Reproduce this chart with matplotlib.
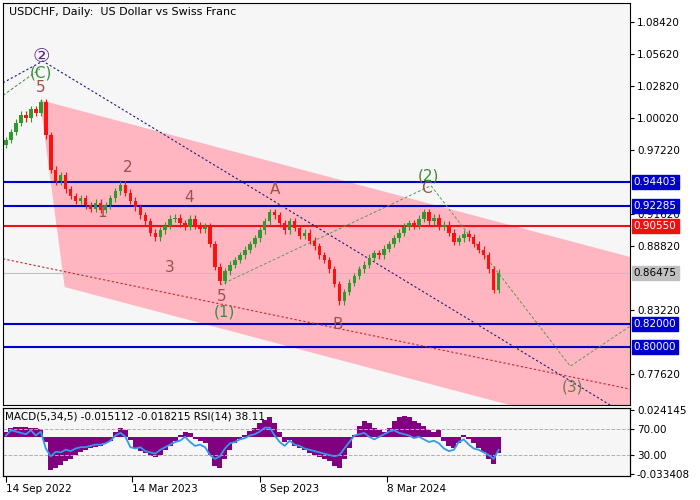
import numpy as np
import matplotlib
matplotlib.use('Agg')
import matplotlib.pyplot as plt
from matplotlib.patches import Polygon

step = 5
closes = [0.981, 0.988, 0.996, 1.003, 1.000, 1.008, 1.005, 1.014, 0.985, 0.955,
          0.945, 0.950, 0.938, 0.932, 0.928, 0.930, 0.924, 0.921, 0.926, 0.920,
          0.924, 0.930, 0.936, 0.942, 0.935, 0.928, 0.922, 0.915, 0.910, 0.900,
          0.896, 0.902, 0.906, 0.912, 0.913, 0.908, 0.905, 0.912, 0.906, 0.903,
          0.905, 0.890, 0.870, 0.858, 0.866, 0.872, 0.876, 0.880, 0.885, 0.890,
          0.895, 0.902, 0.910, 0.918, 0.915, 0.908, 0.902, 0.910, 0.904, 0.897,
          0.900, 0.893, 0.888, 0.880, 0.876, 0.868, 0.855, 0.840, 0.848, 0.856,
          0.862, 0.868, 0.872, 0.878, 0.882, 0.880, 0.886, 0.890, 0.895, 0.900,
          0.905, 0.908, 0.906, 0.912, 0.918, 0.910, 0.913, 0.905, 0.907, 0.900,
          0.892, 0.895, 0.899, 0.896, 0.890, 0.885, 0.880, 0.868, 0.850, 0.8647]
macd_hist = [0.004, 0.008, 0.009, 0.009, 0.009, 0.008, 0.008, 0.007, -0.005, -0.030,
             -0.028, -0.025, -0.022, -0.020, -0.016, -0.014, -0.012, -0.010, -0.009, -0.008,
             -0.006, -0.004, 0.004, 0.008, 0.006, -0.003, -0.010, -0.013, -0.015, -0.017,
             -0.018, -0.016, -0.012, -0.008, -0.004, 0.002, 0.004, 0.003, -0.002, -0.004,
             -0.006, -0.016, -0.026, -0.028, -0.020, -0.012, -0.006, -0.002, 0.002, 0.005,
             0.008, 0.012, 0.015, 0.018, 0.012, 0.004, -0.005, -0.003, -0.008, -0.010,
             -0.012, -0.015, -0.016, -0.018, -0.020, -0.022, -0.026, -0.028, -0.020, -0.010,
             0.002, 0.010, 0.014, 0.012, 0.008, 0.006, 0.004, 0.008, 0.014, 0.018,
             0.019, 0.018, 0.014, 0.012, 0.010, 0.006, 0.004, 0.006, -0.004, -0.008,
             -0.010, -0.006, 0.002, -0.002, -0.006, -0.010, -0.014, -0.020, -0.024, -0.015]
rsi = [60, 68, 66, 64, 62, 68, 60, 66, 40, 28, 35, 34, 38, 36, 40, 42, 42, 44, 46, 46,
       48, 52, 60, 64, 58, 42, 40, 42, 36, 34, 32, 38, 42, 46, 50, 52, 58, 50, 44, 46,
       42, 30, 24, 28, 40, 48, 50, 54, 56, 60, 62, 66, 72, 72, 60, 50, 44, 52, 46, 44,
       40, 38, 36, 34, 32, 30, 28, 30, 40, 50, 60, 62, 64, 58, 54, 58, 62, 66, 68, 64,
       62, 60, 56, 58, 54, 50, 52, 48, 40, 36, 38, 50, 54, 46, 40, 38, 34, 30, 24, 38]

price_ticks = [1.08420, 1.05620, 1.02820, 1.00020, 0.97220, 0.91620, 0.88820, 0.83220, 0.77620]
levels_blue = [0.94403, 0.92285, 0.82000, 0.80000]
level_red = 0.90550
last_price = 0.86475
date_pos = [0, 127, 255, 383]
date_labels = ['14 Sep 2022', '14 Mar 2023', '8 Sep 2023', '8 Mar 2024']

# wave labels: (bar, price, text, colour)
waves = [(35, 1.0536, '②', '#5a2a8a'), (35, 1.0396, '(C)', '#3c8c3c'), (35, 1.0273, '5', '#a0504a'),
         (97, 0.9171, '1', '#a0504a'), (122, 0.9573, '2', '#a0504a'), (164, 0.8698, '3', '#a0504a'),
         (184, 0.9302, '4', '#a0504a'), (217, 0.8436, '5', '#a0504a'), (219, 0.8305, '(1)', '#3c8c3c'),
         (270, 0.9372, 'A', '#a0504a'), (333, 0.8191, 'B', '#a0504a'), (422, 0.9389, 'C', '#a0504a'),
         (424, 0.9496, '(2)', '#3c8c3c'), (569, 0.7648, '(3)', '#6e7a4a')]

bg = '#f6f6f6'
fig = plt.figure(figsize=(7, 5), dpi=100)
fig.patch.set_facecolor('white')
ax = fig.add_axes([3/700, 95/500, 627/700, 402/500])
ax2 = fig.add_axes([3/700, 24/500, 627/700, 68/500])
for a in (ax, ax2):
    a.set_facecolor(bg)
    a.set_xlim(-3, 627)
    for s in a.spines.values():
        s.set_color('black')
        s.set_linewidth(0.8)

ax.set_ylim(0.7491, 1.1008)
bars = np.arange(len(closes)) * step

# channel
chan = Polygon([(34, 1.0160), (627, 0.8786), (627, 0.7211), (59, 0.8523)],
               closed=True, facecolor='#ffb6c1', edgecolor='none', zorder=1)
ax.add_patch(chan)

# candles
opens = [closes[0] - 0.004] + closes[:-1]
for b, o, c in zip(bars, opens, closes):
    col = '#2e9a2e' if c >= o else '#ff1010'
    lo, hi = min(o, c), max(o, c)
    ax.vlines(b, lo - 0.003, hi + 0.003, color=col, lw=0.8, zorder=3)
    ax.bar(b, max(hi - lo, 0.0008), bottom=lo, width=3.5, color=col, zorder=3)

# levels
for lv in levels_blue:
    ax.axhline(lv, color='#0000cc', lw=1.5, zorder=2)
ax.axhline(level_red, color='#ee1111', lw=1.5, zorder=2)
ax.axhline(last_price, color='#c0c0c0', lw=0.8, zorder=2)

# trend lines
ax.plot([-3, 37, 607], [1.0310, 1.0500, 0.7491], ls=(0, (2, 2)), color='#1a1a80', lw=0.8, zorder=2)
ax.plot([-3, 34], [1.0200, 1.0430], ls=(0, (3, 2)), color='#3c8c3c', lw=0.7, zorder=2)
ax.plot([215, 427, 567, 627], [0.8540, 0.9410, 0.7830, 0.8180], ls=(0, (3, 2)), color='#5a9a5a', lw=0.7, zorder=2)
ax.plot([-3, 627], [0.8770, 0.7630], ls=(0, (2, 2)), color='#cc2222', lw=0.8, zorder=2)

for b, p, t, c in waves:
    ax.text(b, p, t, color=c, fontsize=11 if t != '②' else 14, ha='center', va='center', zorder=4)

ax.text(0.01, 0.99, 'USDCHF, Daily:  US Dollar vs Swiss Franc', transform=ax.transAxes,
        fontsize=8, va='top', ha='left')

ax.yaxis.tick_right()
ax.set_yticks(price_ticks)
ax.set_yticklabels(['%.5f' % v for v in price_ticks], fontsize=7.5)
ax.tick_params(axis='y', length=3, pad=2)
ax.set_xticks([])
for lv, fc, tc in [(0.94403, '#0000cc', 'white'), (0.92285, '#0000cc', 'white'),
                   (level_red, '#ee1111', 'white'), (last_price, '#c0c0c0', 'black'),
                   (0.82000, '#0000cc', 'white'), (0.80000, '#0000cc', 'white')]:
    ax.text(1.006, lv, '%.5f' % lv, transform=ax.get_yaxis_transform(), fontsize=7.5,
            color=tc, va='center', ha='left',
            bbox=dict(boxstyle='square,pad=0.2', fc=fc, ec=fc))

# MACD / RSI panel
ax2.set_ylim(-0.0352, 0.0258)
ax2.bar(bars, macd_hist, width=step, color='#800080', zorder=2)
ax2r = ax2.twinx()
ax2r.set_ylim(-2.3, 102.3)
ax2r.plot(bars, rsi, color='#3399ee', lw=1.3, zorder=3)
ax2r.axhline(70, color='#b0b0b0', ls='--', lw=0.7)
ax2r.axhline(30, color='#b0b0b0', ls='--', lw=0.7)
ax2r.set_yticks([])
ax2.yaxis.tick_right()
ax2.set_yticks([0.024145, 0.0070, -0.0164, -0.033408])
ax2.set_yticklabels(['0.024145', '70.00', '30.00', '-0.033408'], fontsize=7.5)
ax2.tick_params(axis='y', length=3, pad=2)
ax2.text(0.003, 0.95, 'MACD(5,34,5) -0.015112 -0.018215 RSI(14) 38.11', transform=ax2.transAxes,
         fontsize=7.5, va='top', ha='left')
ax2.set_xticks(date_pos)
ax2.set_xticklabels(date_labels, fontsize=7.5, ha='left')
ax2.tick_params(axis='x', length=4, pad=2)

fig.savefig('out.png', dpi=100)
